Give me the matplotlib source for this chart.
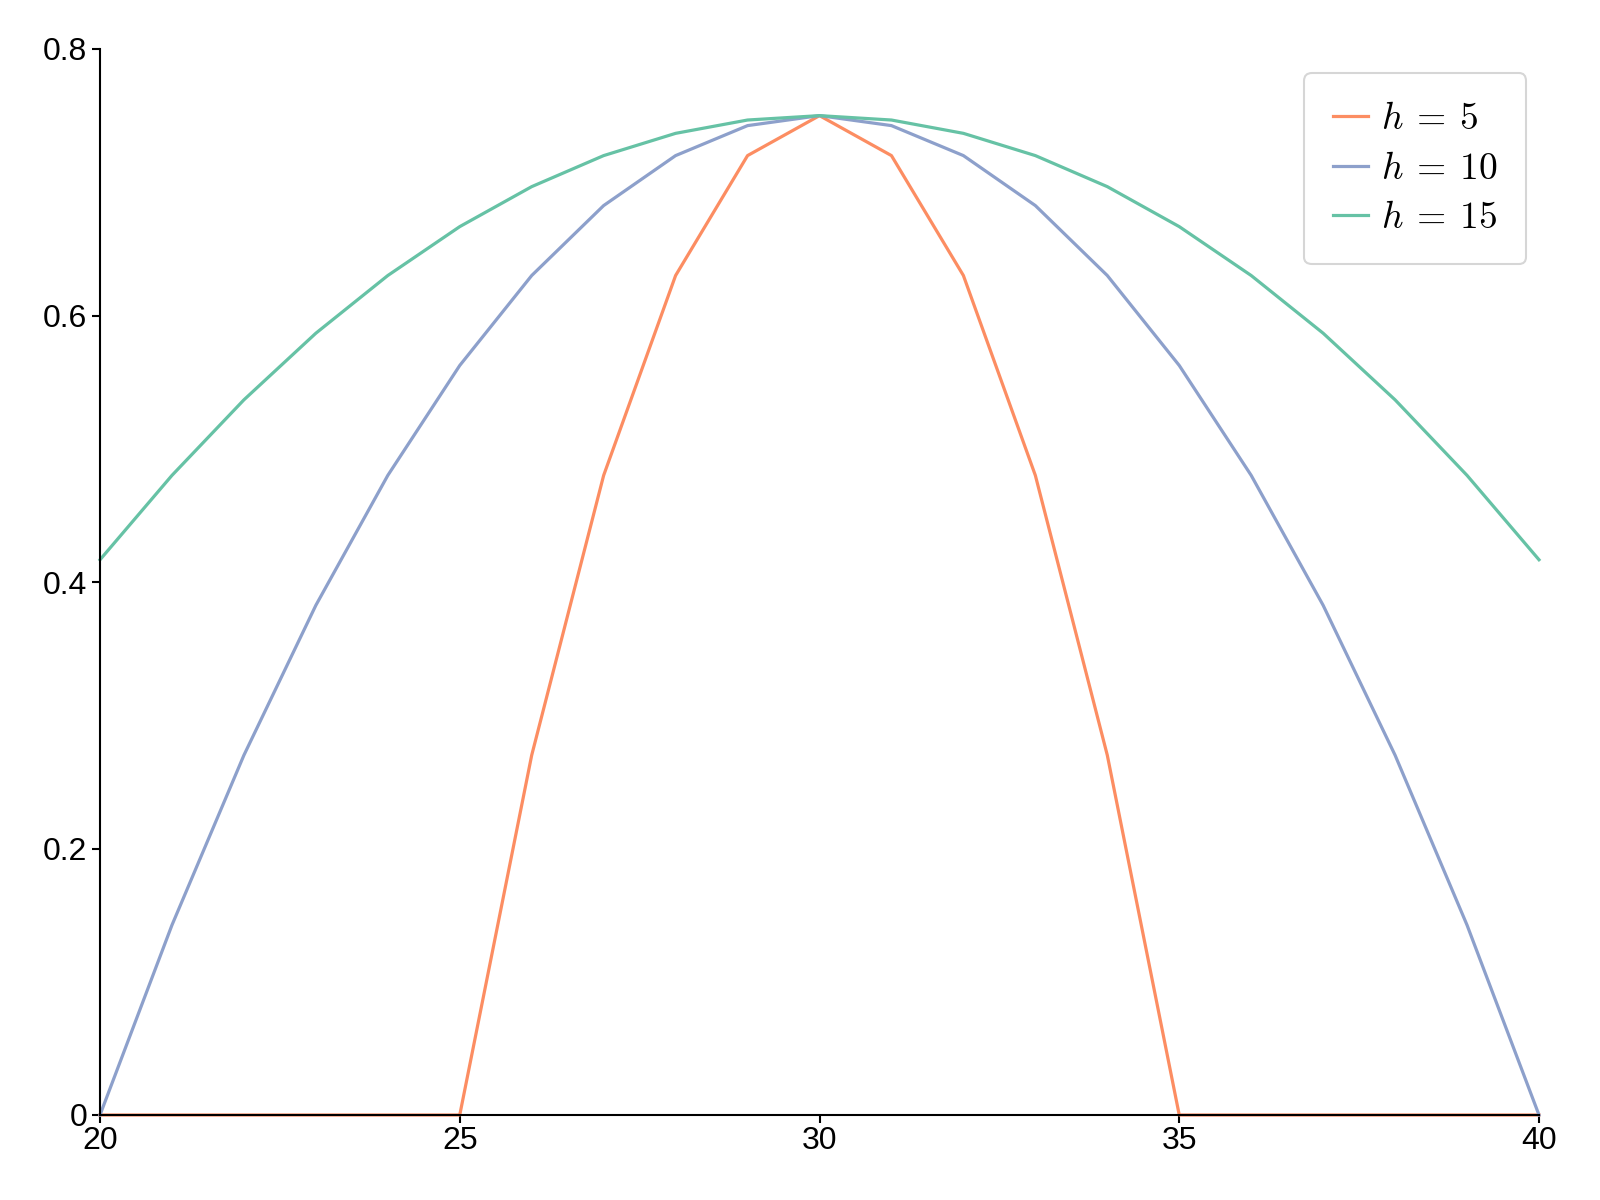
import matplotlib
matplotlib.use("Agg")
import matplotlib.pyplot as plt
from matplotlib.ticker import FixedLocator, FixedFormatter

x = list(range(20, 41))
h5 = [0, 0, 0, 0, 0, 0, 0.27, 0.48, 0.63, 0.72, 0.75, 0.72, 0.63, 0.48, 0.27, 0, 0, 0, 0, 0, 0]
h10 = [0, 0.1425, 0.27, 0.3825, 0.48, 0.5625, 0.63, 0.6825, 0.72, 0.7425, 0.75,
       0.7425, 0.72, 0.6825, 0.63, 0.5625, 0.48, 0.3825, 0.27, 0.1425, 0]
h15 = [0.4167, 0.48, 0.5367, 0.5867, 0.63, 0.6667, 0.6967, 0.72, 0.7367, 0.7467, 0.75,
       0.7467, 0.7367, 0.72, 0.6967, 0.6667, 0.63, 0.5867, 0.5367, 0.48, 0.4167]
labels = [r"$h\:=\:5$", r"$h\:=\:10$", r"$h\:=\:15$"]
colors = ["#fc8d62", "#8da0cb", "#66c2a5"]
xticks = [20, 25, 30, 35, 40]
yticks = [0, 0.2, 0.4, 0.6, 0.8]
yticklabels = ["0", "0.2", "0.4", "0.6", "0.8"]

plt.rcParams['font.family'] = ['Liberation Sans', 'DejaVu Sans']
plt.rcParams['mathtext.fontset'] = 'cm'

fig = plt.figure(figsize=(16, 12), dpi=100)
ax = fig.add_axes([100/1600, 1 - 1115/1200, (1539-100)/1600, (1115-49)/1200])

for ys, lab, c in zip([h5, h10, h15], labels, colors):
    ax.plot(x, ys, color=c, lw=2.3, label=lab, clip_on=False, zorder=2)

ax.set_xlim(20, 40)
ax.set_ylim(0, 0.8)
ax.xaxis.set_major_locator(FixedLocator(xticks))
ax.yaxis.set_major_locator(FixedLocator(yticks))
ax.yaxis.set_major_formatter(FixedFormatter(yticklabels))
ax.spines['top'].set_visible(False)
ax.spines['right'].set_visible(False)
for s in ['left', 'bottom']:
    ax.spines[s].set_linewidth(1.5)
    ax.spines[s].set_zorder(3)
ax.tick_params(axis='both', direction='out', length=6, width=1.5, labelsize=23)
ax.tick_params(axis='x', pad=2)
ax.tick_params(axis='y', pad=3)

leg = fig.legend(loc='upper right', bbox_to_anchor=(1526/1600, 1 - 73/1200),
                 fontsize=27, frameon=True, fancybox=True, edgecolor='#cccccc',
                 handlelength=0.95, handletextpad=0.35, labelspacing=0.36, borderpad=0.75,
                 borderaxespad=0)
leg.get_frame().set_linewidth(1.5)

fig.savefig("out.png", dpi=100)
